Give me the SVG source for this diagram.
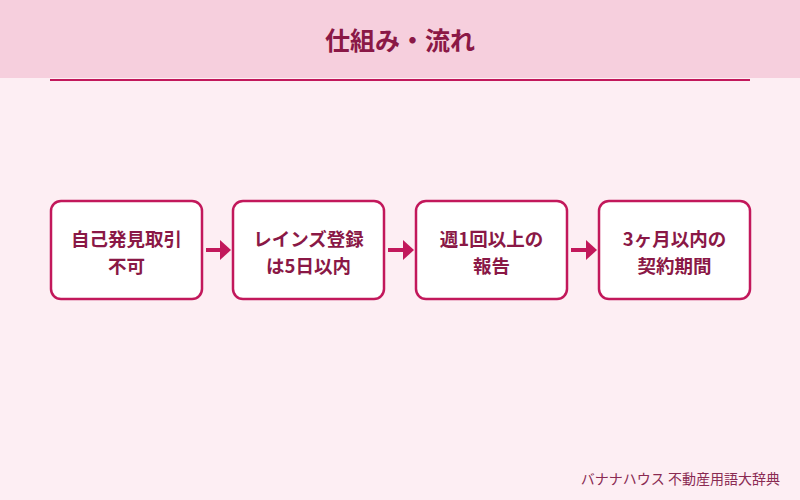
<svg xmlns="http://www.w3.org/2000/svg" width="800" height="500" viewBox="0 0 800 500">
<style>
.box{fill:#ffffff;stroke:#c2185b;stroke-width:2.5}
.t{font-family:"Noto Sans CJK JP","Noto Sans",sans-serif;font-weight:bold;font-size:18.5px;fill:#8a1846;text-anchor:middle}
.c{stroke:#c2185b;stroke-width:4;fill:none}
.h{fill:#c2185b}
</style>
<rect width="800" height="500" fill="#fdeef3"/>
<rect width="800" height="78" fill="#f6cfdd"/>
<line x1="50" y1="80" x2="750" y2="80" stroke="#c2185b" stroke-width="2"/>
<text x="400" y="50" font-family="'Noto Sans CJK JP',sans-serif" font-weight="bold" font-size="25" fill="#8a1846" text-anchor="middle">仕組み・流れ</text>
<g id="n1"><rect class="box" x="51" y="201" width="151" height="98" rx="10"/><text class="t" x="126.5" y="246">自己発見取引</text><text class="t" x="126.5" y="273">不可</text></g>
<g id="n2"><rect class="box" x="233" y="201" width="151" height="98" rx="10"/><text class="t" x="308.5" y="246">レインズ登録</text><text class="t" x="308.5" y="273">は5日以内</text></g>
<g id="n3"><rect class="box" x="416" y="201" width="151" height="98" rx="10"/><text class="t" x="491.5" y="246">週1回以上の</text><text class="t" x="491.5" y="273">報告</text></g>
<g id="n4"><rect class="box" x="599" y="201" width="151" height="98" rx="10"/><text class="t" x="674.5" y="246">3ヶ月以内の</text><text class="t" x="674.5" y="273">契約期間</text></g>
<g id="connectors">
<line class="c" x1="206" y1="250" x2="221" y2="250"/><polygon class="h" points="220,240 231,250 220,260"/>
<line class="c" x1="388" y1="250" x2="404" y2="250"/><polygon class="h" points="403,240 414,250 403,260"/>
<line class="c" x1="571" y1="250" x2="587" y2="250"/><polygon class="h" points="586,240 597,250 586,260"/>
</g>
<text x="780" y="484" font-family="'Noto Sans CJK JP',sans-serif" font-size="14" fill="#8a2a52" text-anchor="end">バナナハウス 不動産用語大辞典</text>
</svg>
